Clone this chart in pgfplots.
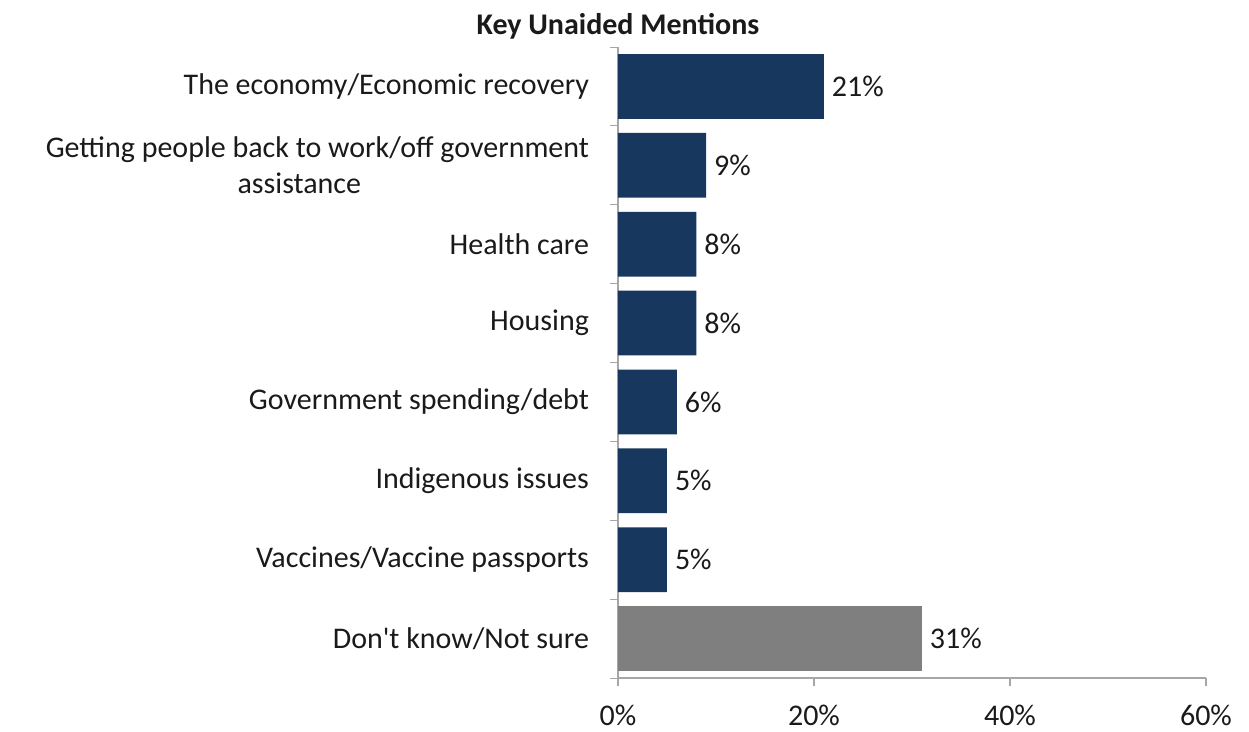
\documentclass[border=0pt]{standalone}
\usepackage{pgfplots}
\pgfplotsset{compat=1.18}
\usepackage{fontspec}
\setmainfont{Carlito}[Ligatures=TeXOff]
\definecolor{navy}{HTML}{17375E}
\definecolor{bgray}{HTML}{7F7F7F}
\definecolor{axgray}{HTML}{A6A6A6}
\definecolor{txt}{HTML}{1A1A1A}
\begin{document}
\begin{tikzpicture}[font=\fontsize{15bp}{18bp}\selectfont, text=txt]
\path[use as bounding box] (-309bp,-27bp) rectangle (315.5bp,339bp);
\begin{axis}[
  at={(0,0)}, anchor=south west,
  scale only axis, width=294bp, height=315.5bp,
  xbar, bar width=0.82,
  xmin=0, xmax=60,
  ymin=-0.5, ymax=7.5, y dir=reverse,
  axis lines*=left,
  axis line style={draw=axgray, line width=0.6bp},
  xtick={0,20,40,60},
  xticklabels={0\%,20\%,40\%,60\%},
  xticklabel style={yshift=-6bp, text=txt},
  ytick={0,...,7},
  yticklabels={{The economy/Economic recovery},{Getting people back to work/off government\\assistance\hspace*{1.2em}},{Health care},{Housing},{Government spending/debt},{Indigenous issues},{Vaccines/Vaccine passports},{Don't know/Not sure}},
  yticklabel style={align=center, text=txt, xshift=-7bp},
  major y tick style={draw=none},
  minor ytick={-0.5,0.5,...,7.5},
  minor y tick style={draw=axgray, line width=0.5bp},
  major x tick style={draw=axgray, line width=0.6bp},
  tick align=outside,
  major tick length=4bp, minor tick length=4bp,
  nodes near coords={\pgfmathprintnumber[assume math mode=true]{\pgfplotspointmeta}\%},
  nodes near coords style={text=txt, anchor=west, xshift=0.5bp},
  clip=false,
]
\addplot[fill=navy, draw=none, bar shift=0pt] coordinates {
  (21,0) (9,1) (8,2) (8,3) (6,4) (5,5) (5,6)
};
\addplot[fill=bgray, draw=none, bar shift=0pt] coordinates {
  (31,7)
};
\end{axis}
\node[font=\fontsize{15bp}{18bp}\selectfont\bfseries, text=txt] at (0bp,326bp) {Key Unaided Mentions};
\end{tikzpicture}
\end{document}
